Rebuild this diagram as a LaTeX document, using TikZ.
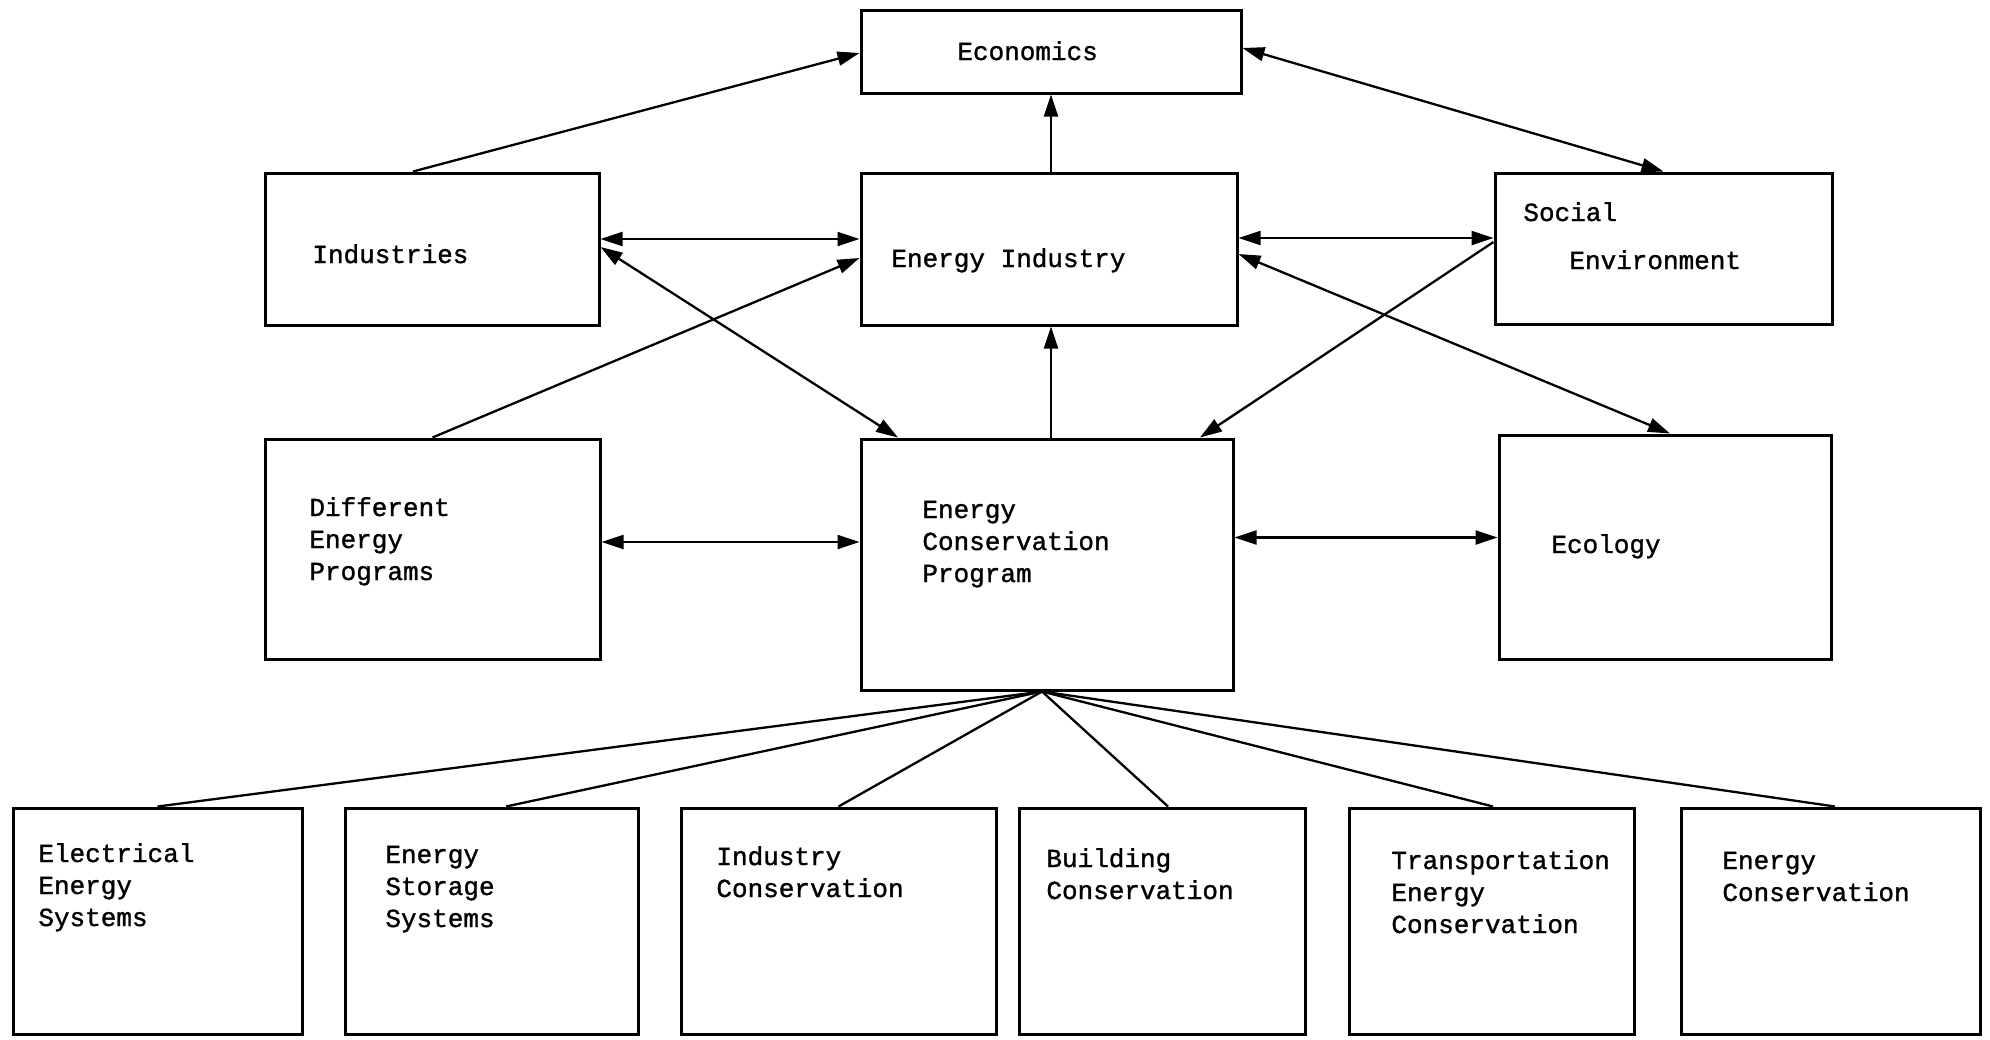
\documentclass[tikz,border=0pt]{standalone}
\usepackage{fontspec}
\setmainfont{Liberation Mono}[FakeBold=1.2]
\usetikzlibrary{arrows.meta}
\begin{document}
\begin{tikzpicture}[x=0.5pt,y=-0.5pt,
  box/.style={draw, line width=1.5pt, inner sep=0pt, rectangle},
  lbl/.style={anchor=base west, inner sep=0pt, font=\fontsize{13pt}{16pt}\selectfont},
  arr/.style={line width=1.15pt, -{Triangle[length=11pt,width=7pt]}},
  biarr/.style={line width=1.15pt, {Triangle[length=11pt,width=7pt]}-{Triangle[length=11pt,width=7pt]}},
  ln/.style={line width=1.15pt}]
\useasboundingbox[fill=white] (0,0) rectangle (1990,1039);

% boxes
\node[box, minimum width=190pt, minimum height=41.5pt] (econ) at (1051,51.5) {};
\node[box, minimum width=167pt, minimum height=76pt] (ind) at (432,249) {};
\node[box, minimum width=188pt, minimum height=76pt] (ei) at (1049,249) {};
\node[box, minimum width=168.5pt, minimum height=75.5pt] (soc) at (1663.5,248.5) {};
\node[box, minimum width=167.5pt, minimum height=110pt] (dep) at (432.5,549) {};
\node[box, minimum width=186pt, minimum height=125.5pt] (ecp) at (1047,564.5) {};
\node[box, minimum width=166pt, minimum height=112pt] (eco) at (1665,547) {};
\node[box, minimum width=144.5pt, minimum height=113pt] (b1) at (157.5,921) {};
\node[box, minimum width=146.5pt, minimum height=113pt] (b2) at (491.5,921) {};
\node[box, minimum width=157.5pt, minimum height=113pt] (b3) at (838.5,921) {};
\node[box, minimum width=143pt, minimum height=113pt] (b4) at (1162,921) {};
\node[box, minimum width=142.5pt, minimum height=113pt] (b5) at (1491.5,921) {};
\node[box, minimum width=149.5pt, minimum height=113pt] (b6) at (1830.5,921) {};

% texts (first-line baselines)
\node[lbl] (t-econ) at (957,60) {Economics};
\node[lbl] (t-ind) at (312,263) {Industries};
\node[lbl] (t-ei) at (891,267) {Energy Industry};
\node[lbl] (t-soc1) at (1523,221) {Social};
\node[lbl] (t-soc2) at (1569,269) {Environment};
\node[lbl] (t-dep) at (309,516) {\vtop{\hbox{Different}\hbox{Energy}\hbox{Programs}}};
\node[lbl] (t-ecp) at (922,518) {\vtop{\hbox{Energy}\hbox{Conservation}\hbox{Program}}};
\node[lbl] (t-eco) at (1551,553) {Ecology};
\node[lbl] (t-b1) at (38,862) {\vtop{\hbox{Electrical}\hbox{Energy}\hbox{Systems}}};
\node[lbl] (t-b2) at (385,863) {\vtop{\hbox{Energy}\hbox{Storage}\hbox{Systems}}};
\node[lbl] (t-b3) at (716,865) {\vtop{\hbox{Industry}\hbox{Conservation}}};
\node[lbl] (t-b4) at (1046,867) {\vtop{\hbox{Building}\hbox{Conservation}}};
\node[lbl] (t-b5) at (1391,869) {\vtop{\hbox{Transportation}\hbox{Energy}\hbox{Conservation}}};
\node[lbl] (t-b6) at (1722,869) {\vtop{\hbox{Energy}\hbox{Conservation}}};

% connectors
\draw[arr] ([xshift=-9.5pt]ind.north) -- ([yshift=-0.75pt]econ.west);
\draw[biarr] ([yshift=1.75pt]econ.east) -- (soc.north);
\draw[arr] (ei.north -| econ.south) -- (econ.south);
\draw[arr] (ecp.north -| econ.south) -- (ei.south -| econ.south);
\draw[biarr] ([yshift=5pt]ind.east) -- ([yshift=5pt]ei.west);
\draw[biarr] ([yshift=1pt]ind.east) -- ([xshift=-74.5pt]ecp.north);
\draw[arr] (dep.north) -- ([yshift=-4.5pt]ei.west);
\draw[biarr] ([yshift=3.5pt]dep.east) -- ([yshift=11.25pt]ecp.west);
\draw[biarr] ([yshift=5.5pt]ei.east) -- ([yshift=5.25pt]soc.west);
\draw[arr] ([yshift=3.25pt]soc.west) -- ([xshift=76.5pt]ecp.north);
\draw[biarr] ([yshift=-2.5pt]ei.east) -- ([xshift=2.5pt]eco.north);
\draw[biarr] ([yshift=13.5pt]ecp.east) -- ([yshift=4.75pt]eco.west);

\coordinate (apex) at ([xshift=-2.5pt]ecp.south);
\draw[ln] (apex) -- (b1.north);
\draw[ln] (apex) -- ([xshift=7.25pt]b2.north);
\draw[ln] (apex) -- (b3.north);
\draw[ln] (apex) -- ([xshift=3pt]b4.north);
\draw[ln] (apex) -- ([xshift=0.75pt]b5.north);
\draw[ln] (apex) -- ([xshift=2.25pt]b6.north);
\end{tikzpicture}
\end{document}
